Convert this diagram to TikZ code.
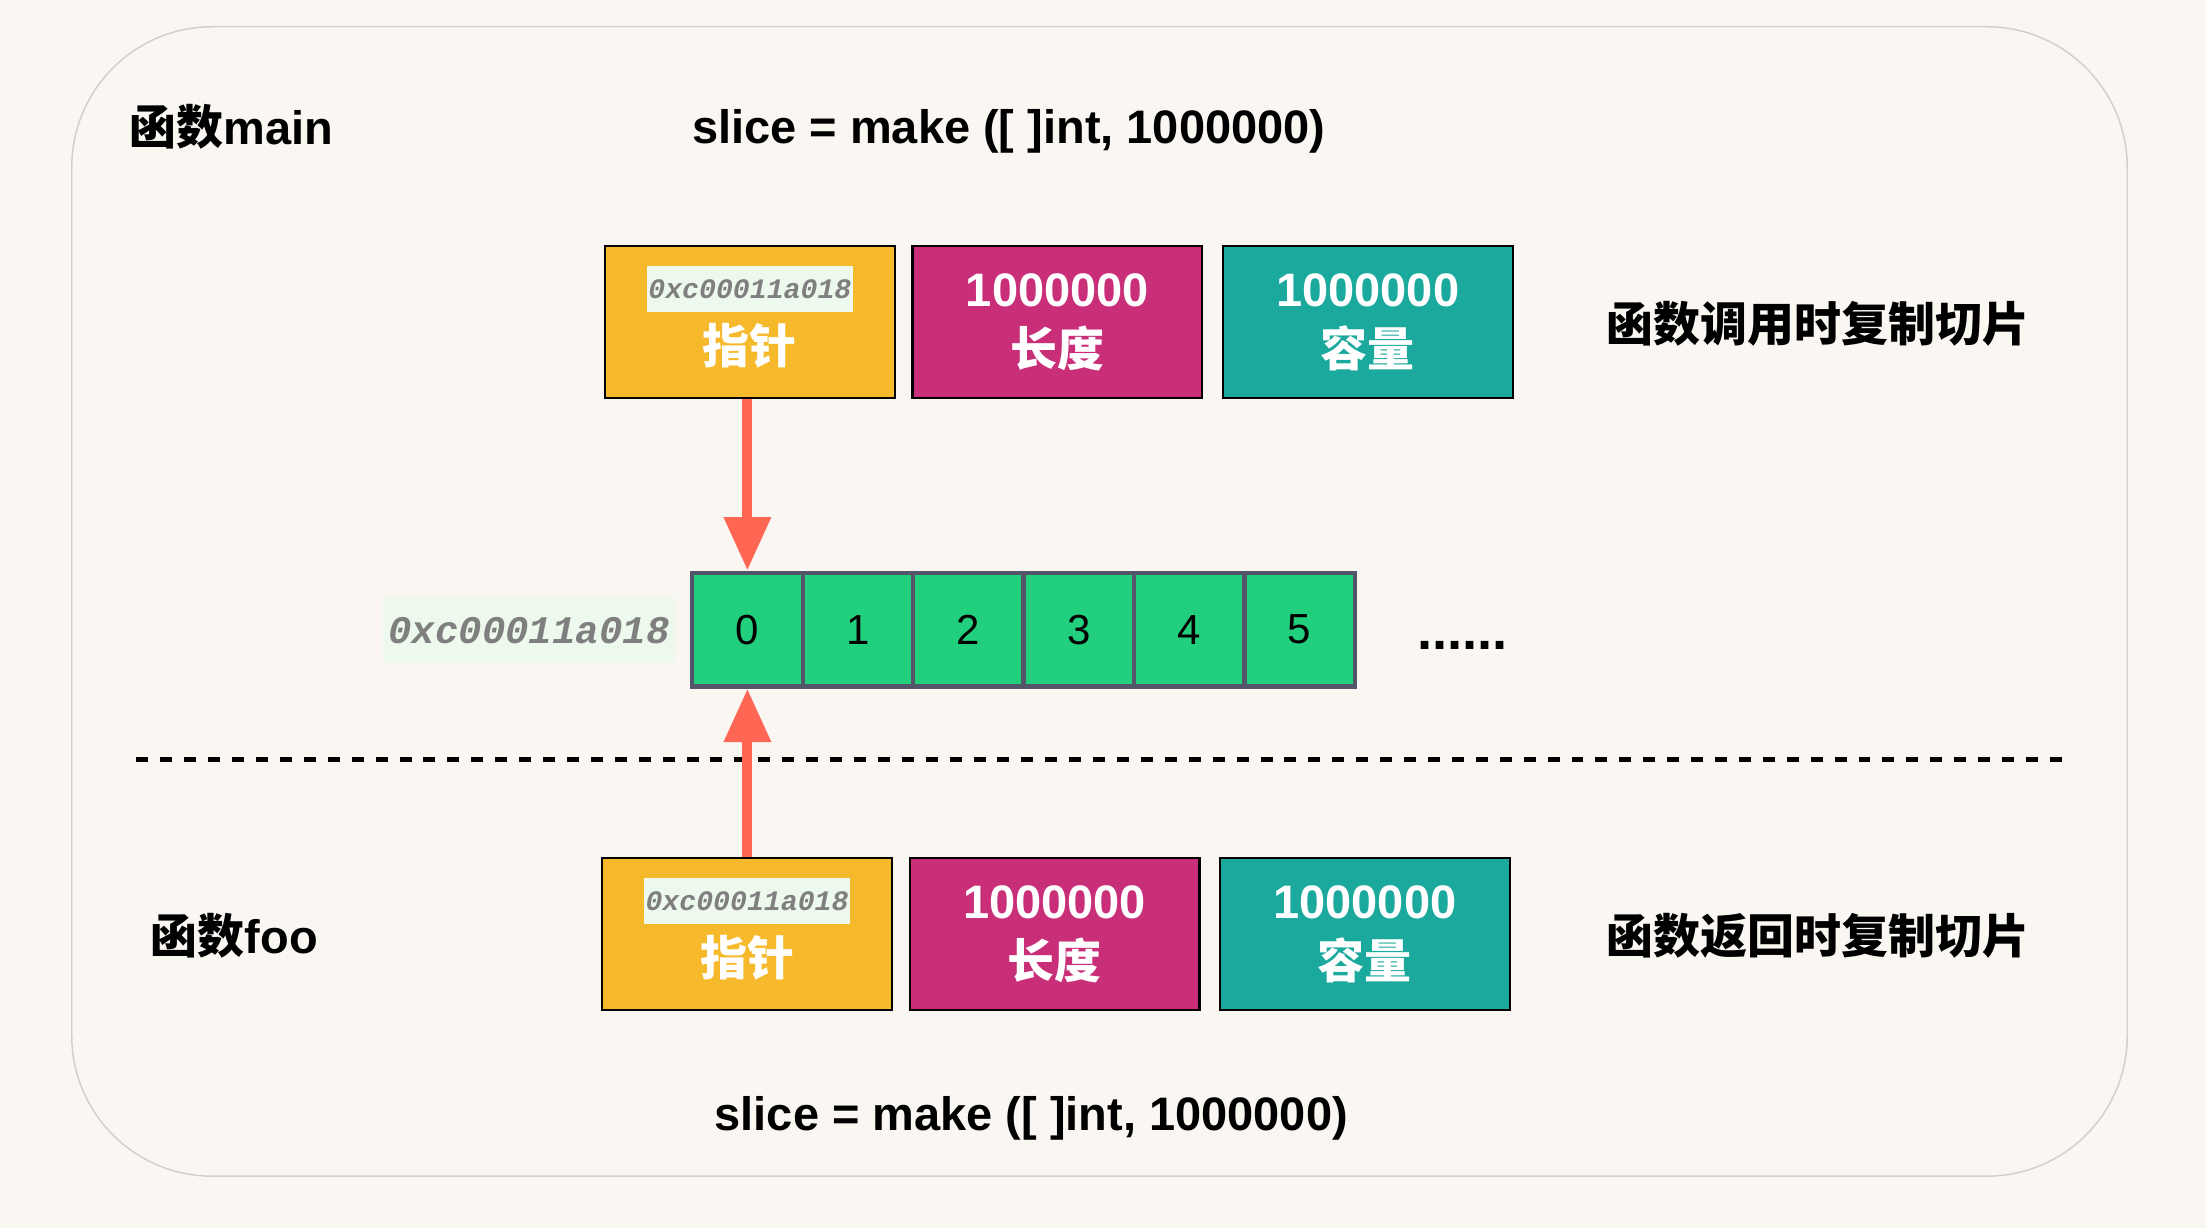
\documentclass[tikz,border=0pt]{standalone}
\usepackage{fontspec}
\setmainfont{Liberation Sans}
\newfontfamily\cjk{Noto Sans CJK SC}
\newfontfamily\addrfont{Liberation Mono}
\usetikzlibrary{positioning,arrows.meta}

\definecolor{bgcream}{HTML}{FAF7F2}
\definecolor{framegray}{HTML}{D3CFCA}
\definecolor{ptryellow}{HTML}{F6B92B}
\definecolor{lenpink}{HTML}{C92F79}
\definecolor{capteal}{HTML}{1AA99C}
\definecolor{cellgreen}{HTML}{22CF7C}
\definecolor{cellborder}{HTML}{535568}
\definecolor{arrowred}{HTML}{FF6654}
\definecolor{addrbg}{HTML}{EEF9EE}
\definecolor{addrtext}{HTML}{7F7F7F}

\tikzset{
  field/.style={draw=black,line width=0.9pt,minimum width=4.12cm,minimum height=2.16cm,
    inner sep=0pt,text=white,align=center,font=\fontsize{19}{24}\selectfont\bfseries},
  cell/.style={draw=cellborder,fill=cellgreen,line width=1.7pt,minimum width=1.57cm,
    minimum height=1.62cm,font=\fontsize{17}{20}\selectfont},
  addr/.style={fill=addrbg,text=addrtext,inner sep=0pt},
  title/.style={font=\fontsize{19}{22}\selectfont\bfseries},
  copyarrow/.style={arrowred,line width=4pt,-{Triangle[width=0.64cm,length=0.76cm]}},
}

\begin{document}
\begin{tikzpicture}
\useasboundingbox (0,0) rectangle (31.36,-17.46);
\fill[bgcream] (0,0) rectangle (31.36,-17.46);
\draw[framegray,line width=0.6pt,rounded corners=2cm] (1.02,-0.38) rectangle (30.24,-16.72);

% function main
\node[title,anchor=west] (mainname) at (1.72,-1.8) {{\cjk 函数}main};
\node[title] (maincode) at (14.34,-1.87) {slice = make ([ ]int, 1000000)};

\node[field,fill=ptryellow] (ptr) at (10.66,-4.58) {};
\node[field,fill=lenpink,right=0.22cm of ptr] (len) {1000000\\{\cjk 长度}};
\node[field,fill=capteal,right=0.26cm of len] (cap) {1000000\\{\cjk 容量}};
\node[addr,minimum width=2.92cm,minimum height=0.66cm,font=\fontsize{11.4}{13}\selectfont\addrfont\bfseries\itshape]
  (ptraddr) at ([yshift=0.47cm]ptr.center) {0xc00011a018};
\node[text=white,font=\fontsize{19}{22}\selectfont\bfseries] (ptrname) at ([yshift=-0.34cm]ptr.center) {\cjk 指针};
\node[title] (callnote) at (25.84,-4.6) {\cjk 函数调用时复制切片};

% underlying array
\foreach \i in {0,...,5}
  \node[cell] (c\i) at ({10.625+1.57*\i},-8.95) {\i};
\node[addr,minimum width=4.16cm,minimum height=0.94cm,font=\fontsize{15.8}{18}\selectfont\addrfont\bfseries\itshape]
  (arraddr) at (7.52,-8.96) {0xc00011a018};
\node[font=\fontsize{22}{24}\selectfont\bfseries,anchor=base west] (more) at (20.02,-9.24) {......};

\draw[copyarrow] (c0.north |- ptr.south) -- (c0.north);

% separator
\coordinate (sepl) at (1.94,-10.8);
\coordinate (sepr) at (29.34,-10.8);
\draw[line width=2pt,dash pattern=on 0.17cm off 0.17cm] (sepl) -- (sepr);

% function foo
\node[title,anchor=west] (fooname) at (2.02,-13.3) {{\cjk 函数}foo};
\node[field,fill=ptryellow] (ptrb) at (10.62,-13.28) {};
\node[field,fill=lenpink,right=0.22cm of ptrb] (lenb) {1000000\\{\cjk 长度}};
\node[field,fill=capteal,right=0.26cm of lenb] (capb) {1000000\\{\cjk 容量}};
\node[addr,minimum width=2.92cm,minimum height=0.66cm,font=\fontsize{11.4}{13}\selectfont\addrfont\bfseries\itshape]
  (ptrbaddr) at ([yshift=0.47cm]ptrb.center) {0xc00011a018};
\node[text=white,font=\fontsize{19}{22}\selectfont\bfseries] (ptrbname) at ([yshift=-0.34cm]ptrb.center) {\cjk 指针};
\node[title] (retnote) at (25.84,-13.3) {\cjk 函数返回时复制切片};
\node[title] (foocode) at (14.66,-15.9) {slice = make ([ ]int, 1000000)};

\draw[copyarrow] (c0.south |- ptrb.north) -- (c0.south);
\end{tikzpicture}
\end{document}
